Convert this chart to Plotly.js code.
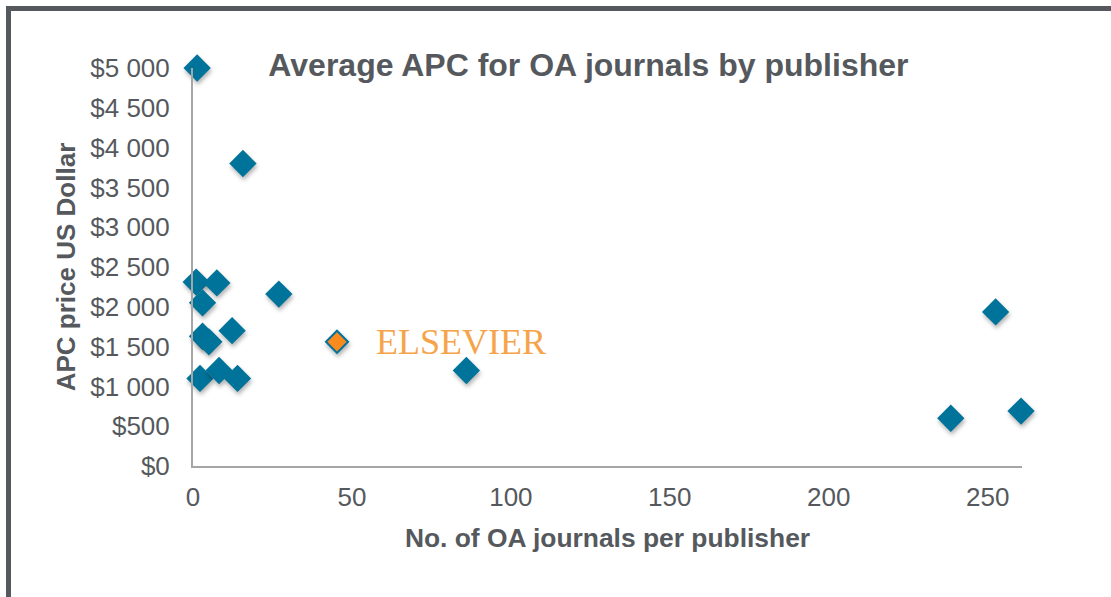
<!DOCTYPE html>
<html>
<head>
<meta charset="utf-8">
<script src="https://cdn.plot.ly/plotly-3.0.1.min.js"></script>
<style>
  html, body { margin: 0; padding: 0; background: #ffffff; }
  #wrap { position: relative; width: 1111px; height: 597px; overflow: hidden; }
  #chart { position: absolute; left: 0; top: 0; width: 1111px; height: 597px; }
  #frameL { position: absolute; left: 6px; top: 6px; width: 5px; height: 600px; background: #55595d; }
  #frameT { position: absolute; left: 6px; top: 6px; width: 1110px; height: 5px; background: #55595d; }
  #chart .scatterlayer path.point { filter: drop-shadow(1px 3px 2px rgba(0,0,0,0.30)); }
</style>
</head>
<body>
<div id="wrap">
  <div id="chart"></div>
  <div id="frameL"></div>
  <div id="frameT"></div>
</div>
<script>
// Number of OA journals per publisher and average APC (US$)
const journalsOther = [1.3, 15.7, 1, 7.5, 3, 27, 3, 5, 12.3, 86, 2.2, 8.2, 14, 252.5, 238.4, 260.5];
const apcOther      = [5000, 3800, 2310, 2300, 2050, 2160, 1630, 1560, 1700, 1200, 1100, 1200, 1100, 1935, 600, 690];
const journalsElsevier = [45.3];
const apcElsevier      = [1560];
const elsevierLabel = "ELSEVIER";
const xTicks = [0, 50, 100, 150, 200, 250];
const yTicks = [0, 500, 1000, 1500, 2000, 2500, 3000, 3500, 4000, 4500, 5000];
const yTickText = yTicks.map(v => "$" + String(v).replace(/\B(?=(\d{3})+(?!\d))/g, " "));

const textColor = "#55595d";
const blue = "#00739a";

const traces = [
  {
    type: "scatter", mode: "markers",
    x: journalsOther, y: apcOther,
    marker: { symbol: "diamond", size: 21, color: blue, line: { width: 0 } },
    cliponaxis: false, hoverinfo: "x+y", showlegend: false
  },
  {
    type: "scatter", mode: "markers",
    x: journalsElsevier, y: apcElsevier,
    marker: { symbol: "diamond", size: 17, color: "#f98a1e", line: { width: 2, color: blue } },
    cliponaxis: false, hoverinfo: "x+y", showlegend: false
  }
];

const layout = {
  width: 1111, height: 597,
  margin: { l: 193, r: 89, t: 68, b: 131 },
  paper_bgcolor: "rgba(0,0,0,0)",
  plot_bgcolor: "#ffffff",
  font: { family: "Liberation Sans, Arial, sans-serif", color: textColor },
  title: {
    text: "<b>Average APC for OA journals by publisher</b>",
    font: { size: 32, color: textColor, family: "Liberation Sans, Arial, sans-serif" },
    xref: "paper", x: 0.477, xanchor: "center",
    yref: "container", y: 1 - 65 / 597, yanchor: "middle"
  },
  xaxis: {
    range: [0, 260.8], tickmode: "array", tickvals: xTicks, ticks: "", showgrid: false, zeroline: false,
    showline: true, linecolor: "#a6a6a6", linewidth: 2,
    tickfont: { size: 26, color: textColor },
    ticklabelstandoff: 7,
    title: { text: "<b>No. of OA journals per publisher</b>", font: { size: 26.4, color: textColor }, standoff: 17 },
    automargin: false
  },
  yaxis: {
    range: [0, 5000], tickmode: "array", tickvals: yTicks, ticktext: yTickText,
    ticks: "", showgrid: false, zeroline: false,
    showline: true, linecolor: "#a6a6a6", linewidth: 2,
    tickfont: { size: 26, color: textColor },
    ticklabelstandoff: 16,
    title: { text: "<b>APC price US Dollar</b>", font: { size: 26, color: textColor }, standoff: 7 },
    automargin: false
  },
  annotations: [
    {
      x: journalsElsevier[0] + 11.5, y: apcElsevier[0], xref: "x", yref: "y",
      xanchor: "left", yanchor: "middle", showarrow: false,
      text: elsevierLabel,
      font: { family: "Liberation Serif, Times New Roman, serif", size: 36, color: "#f6a44a" }
    }
  ]
};

Plotly.newPlot("chart", traces, layout, { displayModeBar: false, staticPlot: true });
</script>
</body>
</html>
